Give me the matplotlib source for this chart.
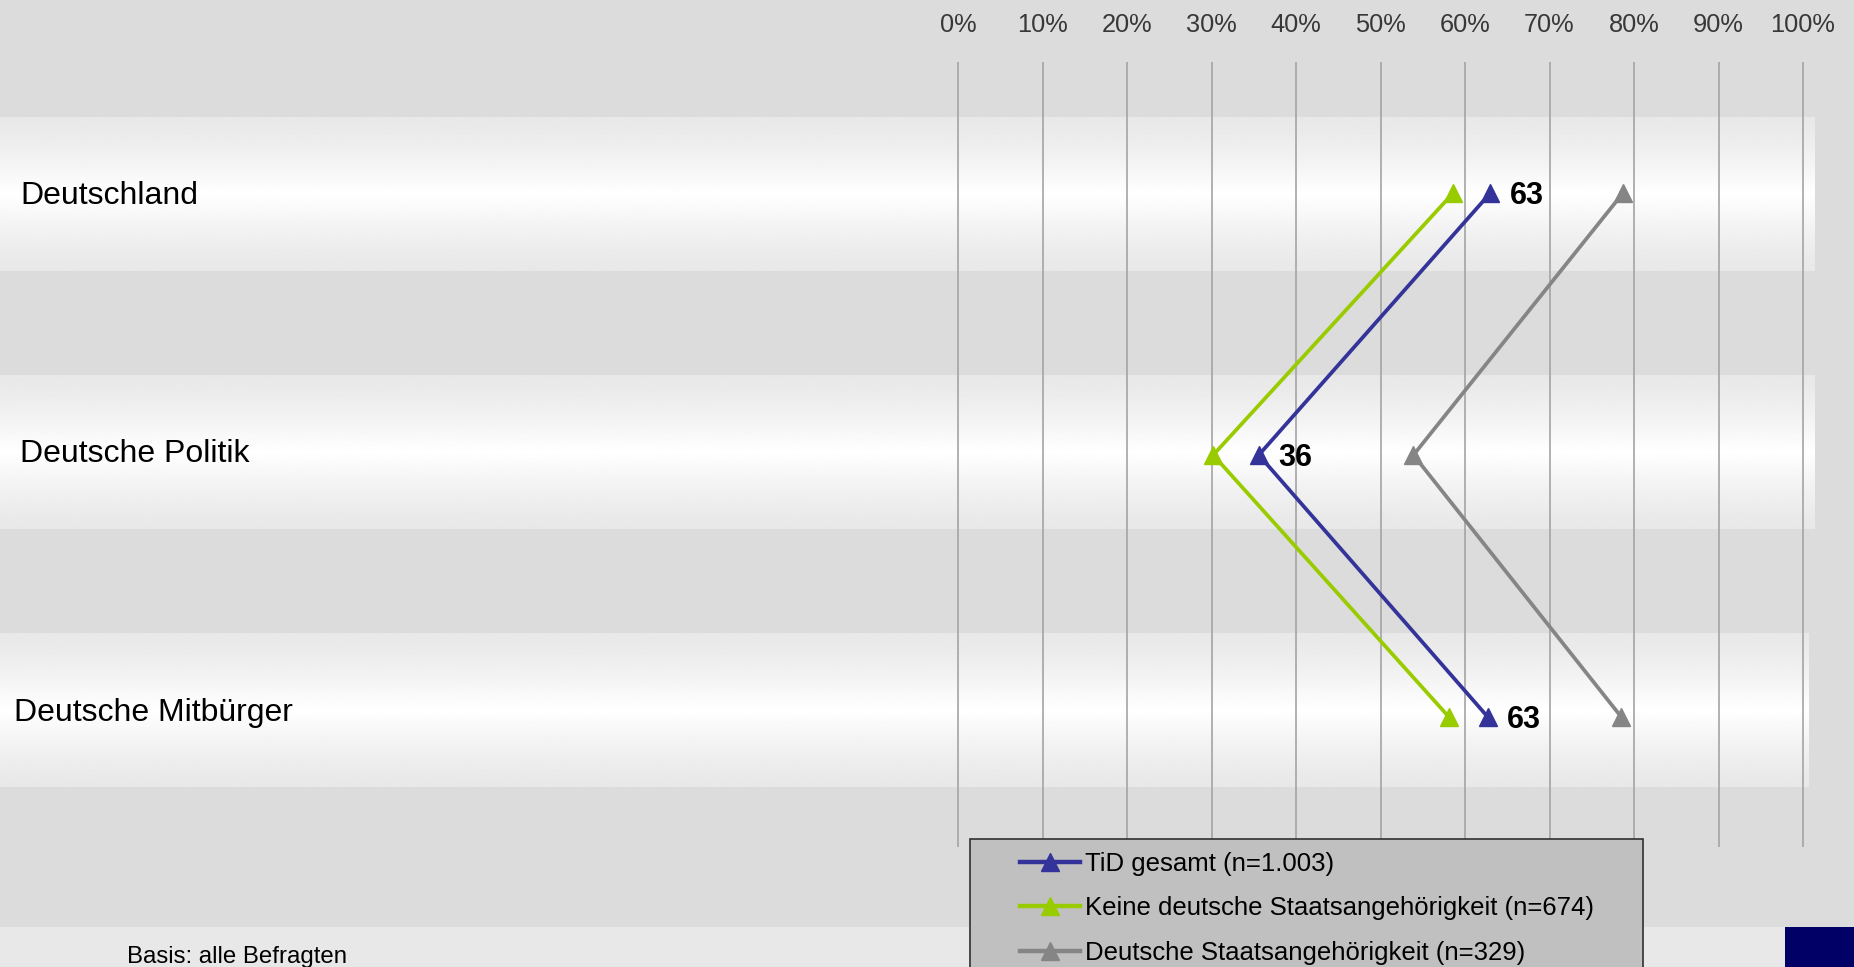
import numpy as np
import matplotlib
matplotlib.use("Agg")
import matplotlib.pyplot as plt
from matplotlib.patches import Rectangle
from matplotlib.lines import Line2D

plt.rcParams['font.family'] = ['Liberation Sans', 'DejaVu Sans']

# ---------------- data ----------------
categories = ["Deutschland", "Deutsche Politik", "Deutsche Mitbürger"]
series_names = ["TiD gesamt (n=1.003)",
                "Keine deutsche Staatsangehörigkeit (n=674)",
                "Deutsche Staatsangehörigkeit (n=329)"]
tid_gesamt = [63.0, 35.6, 62.7]
keine_deutsche = [58.6, 30.2, 58.1]
deutsche = [78.7, 53.9, 78.5]
x_ticks = [0, 10, 20, 30, 40, 50, 60, 70, 80, 90, 100]
x_tick_labels = [f"{t}%" for t in x_ticks]
footnote = "Basis: alle Befragten"

# ---------------- styling ----------------
W, H = 1854, 967
BG = "#DCDCDC"
FOOT = "#E8E8E8"
c_blue = "#333399"
c_green = "#99CC00"
c_gray = "#858585"

fig = plt.figure(figsize=(W / 100, H / 100), dpi=100, facecolor=BG)
ax = fig.add_axes([0, 0, 1, 1])
ax.patch.set_visible(False)
ax.axis('off')
ax.set_zorder(1)

# pixel <-> data mapping (layout only)
X0_PX, PX_PER_PCT = 958.0, 8.45
Y0_PX, PX_PER_CAT = 193.0, 262.0
def px2x(px):
    return (px - X0_PX) / PX_PER_PCT
def px2y(py):
    return (py - Y0_PX) / PX_PER_CAT

xlim = (px2x(0), px2x(W))
ylim = (px2y(H), px2y(0))

# footer strip
fig.patches.append(Rectangle((0, 0), 1, 40 / H, transform=fig.transFigure,
                             facecolor=FOOT, edgecolor='none', zorder=0))
# navy square bottom right
fig.patches.append(Rectangle((1785 / W, 0), (W - 1785) / W, 40 / H,
                             transform=fig.transFigure, facecolor="#000066",
                             edgecolor='none', zorder=0))

# gradient bands
band_centers_px = [194, 452, 710]
band_right_px = [1815, 1815, 1809]
band_half_px = 77
t = np.linspace(-1, 1, 200)
prof = 0.91 + 0.09 * (1 - np.abs(t)) ** 1.3
grad = np.repeat(prof[:, None], 2, axis=1)
for cy, rx in zip(band_centers_px, band_right_px):
    ax.imshow(grad, extent=(px2x(0), px2x(rx), px2y(cy + band_half_px), px2y(cy - band_half_px)),
              aspect='auto', cmap='gray', vmin=0, vmax=1, interpolation='bilinear', zorder=1)

# gridlines
ax.vlines(x_ticks, px2y(61.5), px2y(847), colors="#A4A4A4", linewidth=1.2, zorder=2)
for xt, lab in zip(x_ticks, x_tick_labels):
    ax.text(xt, px2y(24.5), lab, ha='center', va='center', fontsize=18.3, color="#383838", zorder=5)

# category labels
label_x_px = [20, 20, 14]
for cat, lx, cy in zip(categories, label_x_px, band_centers_px):
    ax.text(px2x(lx), px2y(cy + 2.5), cat, ha='left', va='center', fontsize=23, color='black', zorder=5)

# series
ypos = np.arange(len(categories))
common = dict(marker='^', markersize=12.5, linewidth=2.7, zorder=4)
ax.plot(keine_deutsche, ypos, color=c_green, **common)
ax.plot(tid_gesamt, ypos, color=c_blue, **common)
ax.plot(deutsche, ypos, color=c_gray, **common)

for xv, yv in zip(tid_gesamt, ypos):
    ax.annotate(f"{round(xv):d}", (xv, yv), xytext=(14, -2.2), textcoords='offset points',
                ha='left', va='center', fontsize=22, fontweight='bold', color='black', zorder=5)

ax.text(px2x(127), px2y(957), footnote, ha='left', va='center', fontsize=17.3, color='black', zorder=5)

# legend box
lx0, ly0, lx1 = 969.7, 839.0, 1643.0
fig.patches.append(Rectangle((lx0 / W, -0.05), (lx1 - lx0) / W, (H - ly0) / H + 0.05,
                             transform=fig.transFigure, facecolor="#C0C0C0",
                             edgecolor="#303030", linewidth=1.2, zorder=3))
handles = [Line2D([], [], color=c, marker='^', markersize=12.5, linewidth=3.2)
           for c in (c_blue, c_green, c_gray)]
leg = fig.legend(handles, series_names, loc='upper left',
                 bbox_to_anchor=(1020 / W, 1 - 852 / H), frameon=False,
                 fontsize=18.5, handlelength=2.33, handletextpad=0.2,
                 labelspacing=0.79, borderpad=0, borderaxespad=0)
leg.set_zorder(6)

ax.set_xlim(*xlim)
ax.set_ylim(*ylim)

fig.savefig("out.png", dpi=100, facecolor=BG)
